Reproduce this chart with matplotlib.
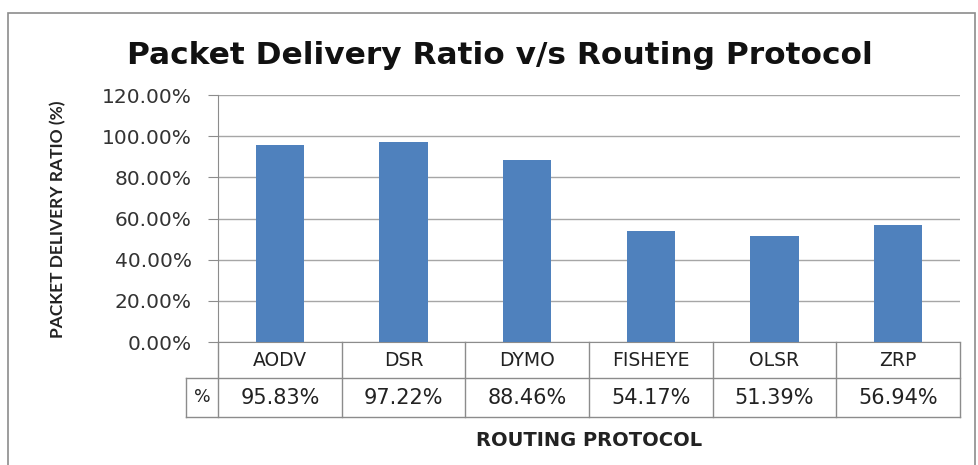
import matplotlib.pyplot as plt
import matplotlib.transforms as mtransforms
from matplotlib.patches import Rectangle
from matplotlib.lines import Line2D

# Data
protocols = ['AODV', 'DSR', 'DYMO', 'FISHEYE', 'OLSR', 'ZRP']
pdr = [95.83, 97.22, 88.46, 54.17, 51.39, 56.94]
yticks = [0, 20, 40, 60, 80, 100, 120]

plt.rcParams['font.family'] = ['DejaVu Sans']

W, H = 979, 465
fig = plt.figure(figsize=(W / 100, H / 100), dpi=100)

# outer chart frame
fig.add_artist(Rectangle((8 / W, -0.05), (975 - 8) / W, (H - 13) / H + 0.05,
                         transform=fig.transFigure, fill=False,
                         edgecolor='#8c8c8c', linewidth=1.2))

left, right, top, bottom = 218, 960, 95, 342
ax = fig.add_axes([left / W, 1 - bottom / H, (right - left) / W, (bottom - top) / H])

x = list(range(len(protocols)))
ax.bar(x, pdr, width=0.39, color='#4f81bd', zorder=3)

ax.set_xlim(-0.5, len(protocols) - 0.5)
ax.set_ylim(0, 120)
ax.set_yticks(yticks)
ax.set_yticklabels([f'{v:.2f}%' for v in yticks], fontsize=14.5, color='#333333')
ax.set_xticks([])
ax.grid(axis='y', color='#a6a6a6', linewidth=1, zorder=0)
for s in ['top', 'right']:
    ax.spines[s].set_visible(False)
ax.spines['left'].set_color('#8c8c8c')
ax.spines['bottom'].set_color('#8c8c8c')
ax.tick_params(axis='y', length=7, color='#8c8c8c', pad=12)

# data table below the axis
tr = mtransforms.blended_transform_factory(ax.transData, ax.transAxes)
row1 = -36 / (bottom - top)
row2 = -75 / (bottom - top)
pct_left = -0.5 - 32 / ((right - left) / len(protocols))
lc = '#8c8c8c'
for k in range(len(protocols) + 1):
    ax.add_line(Line2D([k - 0.5, k - 0.5], [0, row2], transform=tr, color=lc,
                       linewidth=1, clip_on=False))
ax.add_line(Line2D([pct_left, pct_left], [row1, row2], transform=tr, color=lc,
                   linewidth=1, clip_on=False))
for yy in [row1, row2]:
    ax.add_line(Line2D([pct_left, len(protocols) - 0.5], [yy, yy], transform=tr,
                       color=lc, linewidth=1, clip_on=False))
for i, (p, v) in enumerate(zip(protocols, pdr)):
    ax.text(i, row1 / 2, p, transform=tr, ha='center', va='center', fontsize=13.5, color='#222222')
    ax.text(i, (row1 + row2) / 2, f'{v:.2f}%', transform=tr, ha='center', va='center',
            fontsize=15, color='#222222')
ax.text((pct_left - 0.5) / 2, (row1 + row2) / 2, '%', transform=tr, ha='center',
        va='center', fontsize=12.5, color='#222222')

fig.text((left + right) / 2 / W, 1 - 440 / H, 'ROUTING PROTOCOL', ha='center', va='center',
         fontsize=14, fontweight='bold', color='#222222')
fig.text(58 / W, 1 - 219 / H, 'PACKET DELIVERY RATIO (%)', rotation=90, ha='center',
         va='center', fontsize=12.5, fontweight='bold', color='#222222', family='Lato')
fig.text(500 / W, 1 - 55 / H, 'Packet Delivery Ratio v/s Routing Protocol', ha='center',
         va='center', fontsize=22.5, fontweight='bold', color='#111111')

fig.savefig('out.png', dpi=100)
